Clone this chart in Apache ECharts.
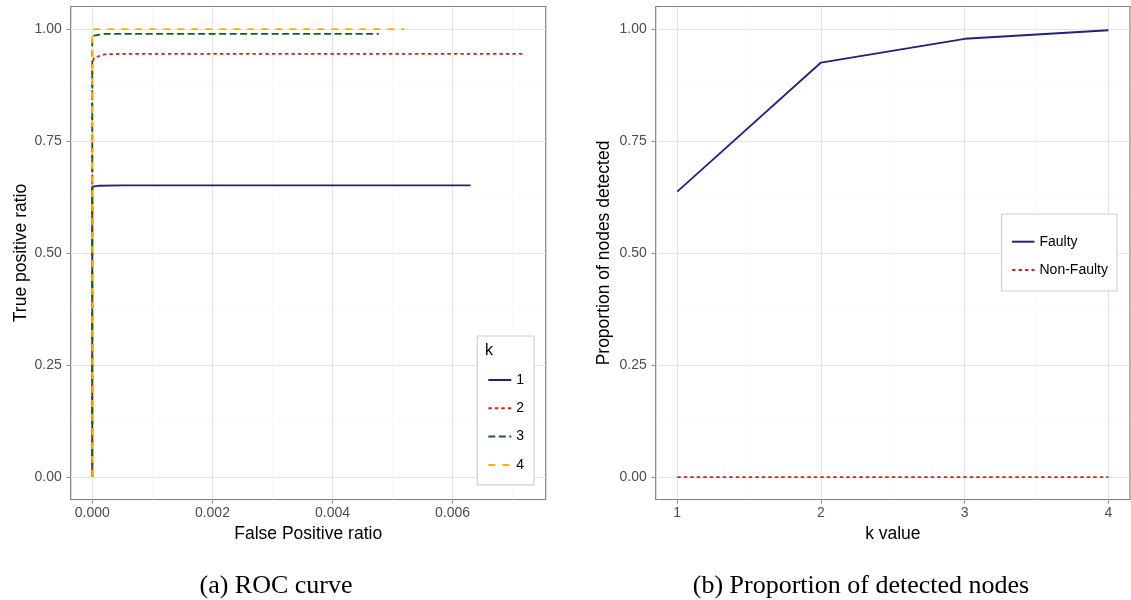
<!DOCTYPE html>
<html>
<head>
<meta charset="utf-8">
<script src="https://cdn.jsdelivr.net/npm/echarts@6/dist/echarts.min.js"></script>
<style>html,body{margin:0;padding:0;background:#fff}#c{width:1131px;height:600px}</style>
</head>
<body>
<div id="c"></div>
<script>
// ---- Data ----
// ROC curves: [false positive ratio, true positive ratio]
const rocK1 = [[0, 0], [0, 0.648], [0.0001, 0.650], [0.0005, 0.651], [0.0063, 0.651]];
const rocK2 = [[0, 0], [0, 0.920], [0.00003, 0.936], [0.0002, 0.943], [0.0005, 0.9445], [0.00719, 0.9445]];
const rocK3 = [[0, 0], [0, 0.975], [0.00003, 0.985], [0.0002, 0.989], [0.00477, 0.989]];
const rocK4 = [[0, 0], [0, 0.997], [0.00005, 0.9995], [0.0052, 0.9995]];
const rocNames = ['1', '2', '3', '4'];

// Proportion of detected nodes
const kValues = [1, 2, 3, 4];
const faulty = [0.637, 0.925, 0.978, 0.997];
const nonFaulty = [0, 0, 0, 0];
const propNames = ['Faulty', 'Non-Faulty'];

// Tick labels
const fprTicks = [0, 0.002, 0.004, 0.006];
const fprMinor = [0.001, 0.003, 0.005, 0.007];
const propTicks = [0, 0.25, 0.5, 0.75, 1];
const propMinor = [0.125, 0.375, 0.625, 0.875];
const kTicks = [1, 2, 3, 4];
const kMinor = [1.5, 2.5, 3.5];

// ---- Styles ----
const SANS = 'Liberation Sans, Arial, sans-serif';
const SERIF = 'Liberation Serif, Times New Roman, serif';
const majorLine = { show: true, lineStyle: { color: '#e4e4e4', width: 1 } };
const minorLine = { show: true, lineStyle: { color: '#f2f2f2', width: 0.6 } };
const tickStyle = { show: true, length: 4, inside: false, lineStyle: { color: '#8c8c8c', width: 1 } };
const labelStyle = { color: '#4d4d4d', fontSize: 14, fontFamily: SANS };
const nameStyle = { color: '#000', fontSize: 17.5, fontFamily: SANS };

const colors = { k1: '#1f2478', k2: '#c62828', k3: '#1e5a1e', k4: '#ffb000' };

function pairs(xs, ys) { return xs.map((x, i) => [x, ys[i]]); }

function mainX(gridIndex, min, max, ticks, fmt, name) {
  return {
    type: 'value', gridIndex, min, max, name, nameLocation: 'middle', nameGap: 26,
    nameTextStyle: nameStyle, position: 'bottom',
    axisLine: { show: false, onZero: false },
    axisTick: Object.assign({ customValues: ticks }, tickStyle),
    axisLabel: Object.assign({ customValues: ticks, margin: 7, formatter: fmt }, labelStyle),
    splitLine: majorLine
  };
}
function minorX(gridIndex, min, max, ticks) {
  return {
    type: 'value', gridIndex, min, max, position: 'top',
    axisLine: { show: false, onZero: false }, axisTick: { show: false, customValues: ticks },
    axisLabel: { show: false }, splitLine: minorLine
  };
}
function mainY(gridIndex, min, max, ticks, fmt, name, gap) {
  return {
    type: 'value', gridIndex, min, max, name, nameLocation: 'middle', nameGap: gap,
    nameTextStyle: nameStyle, position: 'left',
    axisLine: { show: false, onZero: false },
    axisTick: Object.assign({ customValues: ticks }, tickStyle),
    axisLabel: Object.assign({ customValues: ticks, margin: 9, formatter: fmt }, labelStyle),
    splitLine: majorLine
  };
}
function minorY(gridIndex, min, max, ticks) {
  return {
    type: 'value', gridIndex, min, max, position: 'right',
    axisLine: { show: false, onZero: false }, axisTick: { show: false, customValues: ticks },
    axisLabel: { show: false }, splitLine: minorLine
  };
}

const fprMax = 0.00719;
const fprPad = fprMax * 0.05;
const fmt2 = v => v.toFixed(2);
const fmt3 = v => v.toFixed(3);

function lineSeries(name, xi, yi, data, color, type) {
  return {
    name, type: 'line', xAxisIndex: xi, yAxisIndex: yi, data, showSymbol: false, symbol: 'none',
    lineStyle: { color, width: 1.8, type }, itemStyle: { color }
  };
}

const legendCommon = {
  orient: 'vertical', itemHeight: 14, itemGap: 14.3,
  borderColor: '#d0d0d0', borderWidth: 1.2, backgroundColor: '#fff',
  textStyle: { color: '#000', fontSize: 14, fontFamily: SANS },
  itemStyle: { opacity: 0 },
  selectedMode: false
};

const chart = echarts.init(document.getElementById('c'), null, { renderer: 'canvas' });
chart.setOption({
  animation: false,
  backgroundColor: '#fff',
  grid: [
    { left: 70.7, top: 6.5, width: 475, height: 493, show: true, borderColor: '#808080', borderWidth: 1.2, containLabel: false },
    { left: 655.7, top: 6.5, right: 1, height: 493, show: true, borderColor: '#808080', borderWidth: 1.2, containLabel: false }
  ],
  xAxis: [
    mainX(0, -fprPad, fprMax + fprPad, fprTicks, fmt3, 'False Positive ratio'),
    minorX(0, -fprPad, fprMax + fprPad, fprMinor),
    mainX(1, 0.85, 4.15, kTicks, v => String(v), 'k value'),
    minorX(1, 0.85, 4.15, kMinor)
  ],
  yAxis: [
    mainY(0, -0.05, 1.05, propTicks, fmt2, 'True positive ratio', 40),
    minorY(0, -0.05, 1.05, propMinor),
    mainY(1, -0.05, 1.05, propTicks, fmt2, 'Proportion of nodes detected', 43),
    minorY(1, -0.05, 1.05, propMinor)
  ],
  legend: [
    Object.assign({}, legendCommon, {
      data: rocNames, left: 477.3, top: 336, itemWidth: 23,
      padding: [37, 10, 13, 10]
    }),
    Object.assign({}, legendCommon, {
      data: propNames, left: 1001.7, top: 214, itemWidth: 22.5,
      padding: [20.7, 9, 14, 9.3]
    })
  ],
  graphic: [
    { type: 'text', x: 485, y: 343, z: 100, style: { text: 'k', fontSize: 16, fontFamily: SANS, fill: '#000' } },
    { type: 'text', x: 276, y: 586, style: { text: '(a) ROC curve', fontSize: 26, fontFamily: SERIF, fill: '#000', align: 'center', verticalAlign: 'middle' } },
    { type: 'text', x: 861, y: 586, style: { text: '(b) Proportion of detected nodes', fontSize: 26, fontFamily: SERIF, fill: '#000', align: 'center', verticalAlign: 'middle' } }
  ],
  series: [
    lineSeries(rocNames[0], 0, 0, rocK1, colors.k1, 'solid'),
    lineSeries(rocNames[1], 0, 0, rocK2, colors.k2, [3.5, 3]),
    lineSeries(rocNames[2], 0, 0, rocK3, colors.k3, [7, 3.5]),
    lineSeries(rocNames[3], 0, 0, rocK4, colors.k4, [7, 7]),
    lineSeries(propNames[0], 2, 2, pairs(kValues, faulty), colors.k1, 'solid'),
    lineSeries(propNames[1], 2, 2, pairs(kValues, nonFaulty), colors.k2, [3.5, 3])
  ]
});
</script>
</body>
</html>
